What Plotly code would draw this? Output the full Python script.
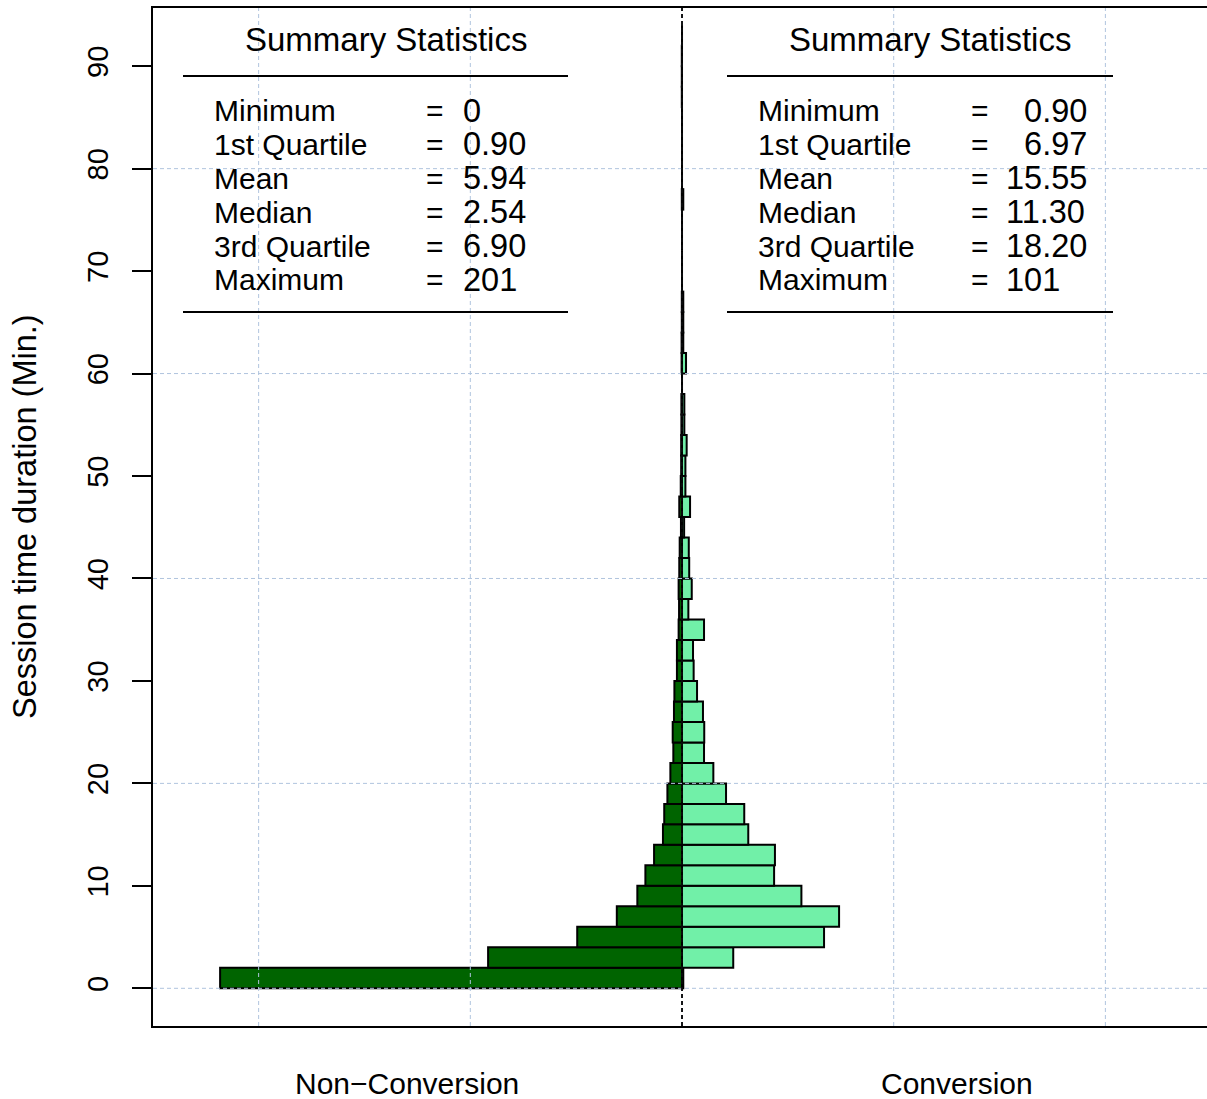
import plotly.graph_objects as go

# ---- data -------------------------------------------------------------
# 2-minute bins of session duration, lower edges
bin_lower = list(range(0, 94, 2))
bin_width = 2

# density per bin (left side: non-conversion sessions)
non_conversion = [
    0.2182, 0.0916, 0.0495, 0.0308, 0.0211, 0.0173, 0.0132, 0.0090,
    0.0084, 0.0069, 0.0055, 0.0041, 0.0044, 0.0038, 0.0036, 0.0024,
    0.0024, 0.0016, 0.0014, 0.0016, 0.0013, 0.0011, 0.0005, 0.0013,
    0.0006, 0.0004, 0.0004, 0.0003, 0.0003, 0.0000, 0.0002, 0.0002,
    0.0001, 0.0001, 0.0000, 0.0000, 0.0000, 0.0000, 0.0001, 0.0000,
    0.0000, 0.0000, 0.0000, 0.0001, 0.0001, 0.0001, 0.0000,
]

# density per bin (right side: conversion sessions)
conversion = [
    0.0006, 0.0242, 0.0671, 0.0742, 0.0564, 0.0435, 0.0439, 0.0313,
    0.0294, 0.0208, 0.0148, 0.0104, 0.0105, 0.0099, 0.0071, 0.0055,
    0.0052, 0.0104, 0.0030, 0.0046, 0.0034, 0.0032, 0.0010, 0.0038,
    0.0016, 0.0016, 0.0022, 0.0011, 0.0011, 0.0000, 0.0019, 0.0006,
    0.0006, 0.0006, 0.0000, 0.0000, 0.0000, 0.0000, 0.0006, 0.0000,
    0.0000, 0.0000, 0.0000, 0.0000, 0.0000, 0.0000, 0.0000,
]

stat_names = ["Minimum", "1st Quartile", "Mean", "Median", "3rd Quartile", "Maximum"]
non_conversion_stats = ["0", "0.90", "5.94", "2.54", "6.90", "201"]
conversion_stats = ["0.90", "6.97", "15.55", "11.30", "18.20", "101"]

group_labels = ["Non\u2212Conversion", "Conversion"]
group_label_x = [-0.13, 0.13]

y_ticks = list(range(0, 100, 10))
grid_y = [0, 20, 40, 60, 80]
grid_x = [-0.2, -0.1, 0.0, 0.1, 0.2]

y_title = "Session time duration (Min.)"
panel_title = "Summary Statistics"

# ---- geometry ---------------------------------------------------------
W, H = 1207, 1099
M_L, M_R, M_T, M_B = 153, 0, 8, 73
PLOT_W = W - M_L - M_R
PLOT_H = H - M_T - M_B
x_range = [-0.2499, 0.2480]
y_range = [-3.68, 95.68]

FONT = "Liberation Sans, Arial, Helvetica, sans-serif"
DARK = "#006400"
LIGHT = "#71F0A8"
GRID = "#B0C4DE"


def px_x(px):
    return (px - M_L) / PLOT_W


def px_y(py):
    return (H - M_B - py) / PLOT_H


centers = [b + bin_width / 2 for b in bin_lower]

fig = go.Figure()
fig.add_trace(go.Bar(
    y=centers, x=[-v for v in non_conversion], orientation="h",
    width=bin_width, marker=dict(color=DARK, line=dict(color="black", width=2)),
    hoverinfo="skip",
))
fig.add_trace(go.Bar(
    y=centers, x=conversion, orientation="h",
    width=bin_width, marker=dict(color=LIGHT, line=dict(color="black", width=2)),
    hoverinfo="skip",
))

shapes = []
# dashed grid drawn over the bars
for gy in grid_y:
    shapes.append(dict(type="line", xref="paper", yref="y", x0=0, x1=1, y0=gy, y1=gy,
                       line=dict(color=GRID, width=1, dash="4px,3px"), layer="above"))
for gx in grid_x:
    shapes.append(dict(type="line", xref="x", yref="paper", x0=gx, x1=gx, y0=0, y1=1,
                       line=dict(color=GRID, width=1, dash="4px,3px"), layer="above"))
# centre divider
shapes.append(dict(type="line", xref="x", yref="paper", x0=0, x1=0, y0=0, y1=1,
                   line=dict(color="black", width=1.8, dash="4px,3px"), layer="above"))

annotations = []


def text(x, y, s, size=30, xanchor="left", xref="paper", angle=0):
    annotations.append(dict(
        x=x, y=y, xref=xref, yref="paper", text=s, showarrow=False,
        xanchor=xanchor, yanchor="middle", textangle=angle,
        font=dict(family=FONT, size=size, color="black"),
    ))


# summary tables
panels = [
    dict(center=386, label_x=212, eq_x=434.5, val_x=461, rule=(183, 568), values=non_conversion_stats),
    dict(center=930, label_x=756, eq_x=979.5, val_x=1004, rule=(727, 1113), values=conversion_stats),
]
row_y0, row_step = 110.5, 33.9
width_ref = max(len(v) for v in conversion_stats)
for i, p in enumerate(panels):
    text(px_x(p["center"]), px_y(40), panel_title, size=33, xanchor="center")
    for ry in (76, 312):
        shapes.append(dict(type="line", xref="paper", yref="paper",
                           x0=px_x(p["rule"][0]), x1=px_x(p["rule"][1]),
                           y0=px_y(ry), y1=px_y(ry),
                           line=dict(color="black", width=2), layer="above"))
    for k, (name, val) in enumerate(zip(stat_names, p["values"])):
        yy = px_y(row_y0 + k * row_step)
        if i == 1 and "." in val and len(val) < width_ref:
            val = "\u00a0\u00a0" + val
        text(px_x(p["label_x"]), yy, name)
        text(px_x(p["eq_x"]), yy, "=", xanchor="center")
        text(px_x(p["val_x"]), yy, val, size=32.5)

# group labels under the axis
for lbl, gx in zip(group_labels, group_label_x):
    text(gx, px_y(1083), lbl, xanchor="center", xref="x")

# y-axis title
text(px_x(25), px_y(517), y_title, size=32.5, xanchor="center", angle=-90)

fig.update_layout(
    width=W, height=H,
    margin=dict(l=M_L, r=M_R, t=M_T, b=M_B, pad=0),
    paper_bgcolor="white", plot_bgcolor="white",
    barmode="overlay", showlegend=False,
    shapes=shapes, annotations=annotations,
    xaxis=dict(range=x_range, showgrid=False, zeroline=False, showticklabels=False,
               ticks="", showline=True, mirror=True, linecolor="black", linewidth=2,
               fixedrange=True),
    yaxis=dict(range=y_range, tickvals=y_ticks, ticks="outside", ticklen=19,
               tickwidth=2, tickcolor="black", tickangle=-90, ticklabelstandoff=12,
               tickfont=dict(family=FONT, size=29, color="black"),
               showgrid=False, zeroline=False, showline=True, linecolor="black",
               linewidth=2, mirror=False, fixedrange=True),
)

fig.write_html("out.html", config={"displayModeBar": False})
